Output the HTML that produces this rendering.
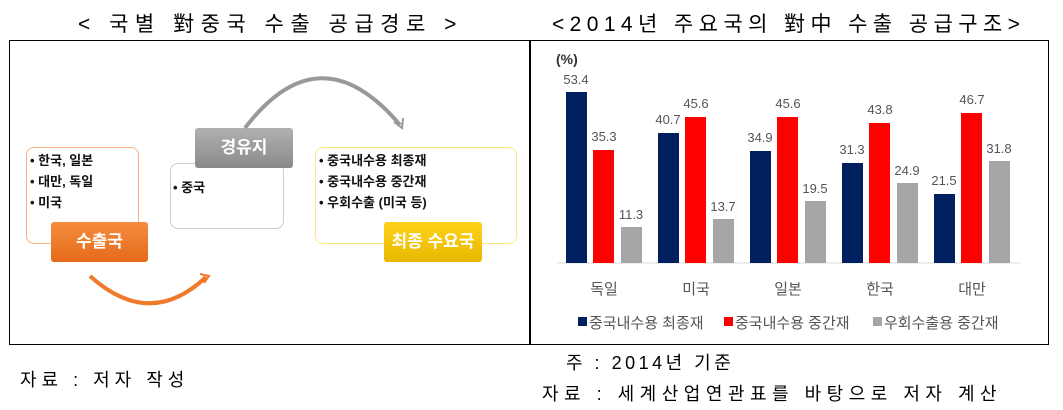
<!DOCTYPE html>
<html><head><meta charset="utf-8"><style>
body{margin:0;width:1063px;height:410px;background:#fff;font-family:"Liberation Sans","Noto Sans CJK KR",sans-serif;position:relative;overflow:hidden}
.a{position:absolute}
.t{font-size:21px;color:#000;white-space:nowrap}
.bul{font-size:13px;font-weight:bold;line-height:21px;color:#111}
.lab{color:#fff;font-weight:bold;font-size:17px;text-align:center;border-radius:3px}
</style></head><body>
<div class="a t" style="left:78px;top:8px;letter-spacing:6.5px">&lt; 국별 對중국 수출 공급경로 &gt;</div>
<div class="a t" style="left:552px;top:8px;letter-spacing:5.4px">&lt;2014년 주요국의 對中 수출 공급구조&gt;</div>
<div class="a" style="left:9px;top:40px;width:1040px;height:305px;border:1.5px solid #000;box-sizing:border-box"></div>
<div class="a" style="left:529px;top:40px;width:1.5px;height:305px;background:#000"></div>

<div class="a" style="left:26px;top:147px;width:111px;height:95px;border:1px solid #f4b183;border-radius:8px"></div>
<div class="a bul" style="left:30px;top:150px">• 한국, 일본<br>• 대만, 독일<br>• 미국</div>
<div class="a lab" style="left:51px;top:222px;width:97px;height:40px;line-height:40px;background:linear-gradient(#f58d3e,#e56a1a)">수출국</div>

<div class="a" style="left:170px;top:163px;width:112px;height:64px;border:1px solid #ccc;border-radius:8px"></div>
<div class="a bul" style="left:173px;top:177px">• 중국</div>
<div class="a lab" style="left:195px;top:128px;width:98px;height:40px;line-height:40px;background:linear-gradient(#b0b0b0,#8a8a8a)">경유지</div>

<div class="a" style="left:315px;top:147px;width:200px;height:95px;border:1px solid #ffe48a;border-radius:8px"></div>
<div class="a bul" style="left:319px;top:150px">• 중국내수용 최종재<br>• 중국내수용 중간재<br>• 우회수출 (미국 등)</div>
<div class="a lab" style="left:384px;top:222px;width:98px;height:40px;line-height:40px;background:linear-gradient(#ffd21a,#e8b800)">최종 수요국</div>

<svg class="a" style="left:0;top:0" width="530" height="345">
<path d="M90 276 Q150 330 206 277" fill="none" stroke="#ef7a2a" stroke-width="4"/>
<path d="M200 274 L209 276 L204 283" fill="none" stroke="#ef7a2a" stroke-width="2"/>
<path d="M245 128 Q320 30 400 125" fill="none" stroke="#999" stroke-width="4"/>
<path d="M394 122 L402 128 L403 118" fill="none" stroke="#999" stroke-width="2"/>
</svg>

<svg class="a" style="left:530px;top:40px" width="519" height="305" font-family="Liberation Sans, Noto Sans CJK KR, sans-serif">
<text x="26" y="24" font-size="14" font-weight="bold" fill="#333">(%)</text>
<line x1="27" y1="223" x2="491" y2="223" stroke="#ddd" stroke-width="1"/>
<g font-size="13" fill="#555" text-anchor="middle">
<rect x="36" y="52" width="21" height="171" fill="#002060"/><text x="46" y="44">53.4</text>
<rect x="63" y="110" width="21" height="113" fill="#ff0000"/><text x="74" y="101">35.3</text>
<rect x="91" y="187" width="21" height="36" fill="#a6a6a6"/><text x="101" y="179">11.3</text>
<rect x="128" y="93" width="21" height="130" fill="#002060"/><text x="138" y="84">40.7</text>
<rect x="155" y="77" width="21" height="146" fill="#ff0000"/><text x="166" y="68">45.6</text>
<rect x="183" y="179" width="21" height="44" fill="#a6a6a6"/><text x="193" y="171">13.7</text>
<rect x="220" y="111" width="21" height="112" fill="#002060"/><text x="230" y="102">34.9</text>
<rect x="247" y="77" width="21" height="146" fill="#ff0000"/><text x="258" y="68">45.6</text>
<rect x="275" y="161" width="21" height="62" fill="#a6a6a6"/><text x="285" y="153">19.5</text>
<rect x="312" y="123" width="21" height="100" fill="#002060"/><text x="322" y="114">31.3</text>
<rect x="339" y="83" width="21" height="140" fill="#ff0000"/><text x="350" y="74">43.8</text>
<rect x="367" y="143" width="21" height="80" fill="#a6a6a6"/><text x="377" y="135">24.9</text>
<rect x="404" y="154" width="21" height="69" fill="#002060"/><text x="414" y="145">21.5</text>
<rect x="431" y="73" width="21" height="150" fill="#ff0000"/><text x="442" y="64">46.7</text>
<rect x="459" y="121" width="21" height="102" fill="#a6a6a6"/><text x="469" y="113">31.8</text>
</g>
<g font-size="15" fill="#555" text-anchor="middle">
<text x="74" y="254">독일</text><text x="166" y="254">미국</text><text x="258" y="254">일본</text><text x="350" y="254">한국</text><text x="442" y="254">대만</text>
</g>
<g font-size="15" fill="#555">
<rect x="48" y="277" width="9" height="9" fill="#002060"/><text x="59" y="288">중국내수용 최종재</text>
<rect x="194" y="277" width="9" height="9" fill="#ff0000"/><text x="205" y="288">중국내수용 중간재</text>
<rect x="343" y="277" width="9" height="9" fill="#a6a6a6"/><text x="354" y="288">우회수출용 중간재</text>
</g>
</svg>

<div class="a" style="left:20px;top:366px;font-size:18px;letter-spacing:5px">자료 : 저자 작성</div>
<div class="a" style="left:566px;top:349px;font-size:18px;letter-spacing:3.5px">주 : 2014년 기준</div>
<div class="a" style="left:542px;top:380px;font-size:18px;letter-spacing:5.5px">자료 : 세계산업연관표를 바탕으로 저자 계산</div>
</body></html>
